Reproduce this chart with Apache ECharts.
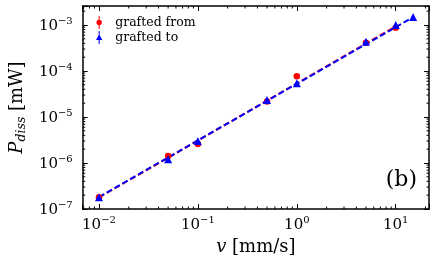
<!DOCTYPE html>
<html>
<head>
<meta charset="utf-8">
<script src="https://cdn.jsdelivr.net/npm/echarts@6/dist/echarts.min.js"></script>
<style>
html,body{margin:0;padding:0;background:#fff;}
#c{width:436px;height:265px;}
</style>
</head>
<body>
<div id="c"></div>
<script>
// ---- data ----
const fromV = [0.01, 0.05, 0.1, 0.5, 1, 5, 10];
const fromP = [1.8e-7, 1.42e-6, 2.6e-6, 2.16e-5, 7.7e-5, 4.1e-4, 8.7e-4];
const toV = [0.01, 0.05, 0.1, 0.5, 1, 5, 10, 15];
const toP = [1.8e-7, 1.2e-6, 3.0e-6, 2.34e-5, 5.4e-5, 4.35e-4, 1.0e-3, 1.5e-3];
// fitted power-law lines (end points)
const fitFromV = [0.01, 10];
const fitFromP = [1.78e-7, 9.3e-4];
const fitToV = [0.01, 15];
const fitToP = [1.82e-7, 1.48e-3];
// minor tick values (log axes)
const minorXTicks = [0.007, 0.008, 0.009, 0.02, 0.03, 0.04, 0.05, 0.06, 0.07, 0.08, 0.09,
  0.2, 0.3, 0.4, 0.5, 0.6, 0.7, 0.8, 0.9, 2, 3, 4, 5, 6, 7, 8, 9, 20];
const minorYTicks = [2e-7,3e-7,4e-7,5e-7,6e-7,7e-7,8e-7,9e-7,
  2e-6,3e-6,4e-6,5e-6,6e-6,7e-6,8e-6,9e-6,
  2e-5,3e-5,4e-5,5e-5,6e-5,7e-5,8e-5,9e-5,
  2e-4,3e-4,4e-4,5e-4,6e-4,7e-4,8e-4,9e-4, 2e-3];
const X_MIN = 0.00685, X_MAX = 21.7;
const Y_MIN = 1e-7, Y_MAX = 2.59e-3;

const FONT = 'DejaVu Serif';
const zip = (a, b) => a.map((v, i) => [v, b[i]]);

function powLabel(v) {
  const e = Math.log10(v);
  const r = Math.round(e);
  if (Math.abs(e - r) > 1e-6) return '';
  return '{b|10}{s|' + (r < 0 ? '\u2212' : '') + Math.abs(r) + '}';
}
const labelRich = {
  b: {fontFamily: FONT, fontSize: 15, lineHeight: 18, verticalAlign: 'bottom', color: '#000'},
  s: {fontFamily: FONT, fontSize: 10, lineHeight: 10, verticalAlign: 'top', color: '#000'}
};

function baseAxis(extra) {
  return Object.assign({
    type: 'log',
    logBase: 10,
    axisLine: {show: true, lineStyle: {color: '#000', width: 1.5}},
    axisTick: {show: true, inside: true, length: 5, lineStyle: {color: '#000', width: 1}},
    splitLine: {show: false},
    minorTick: {show: false}
  }, extra);
}

const chart = echarts.init(document.getElementById('c'), null, {renderer: 'canvas'});

const minorLine = (x1, y1, x2, y2) => ({type: 'line', shape: {x1, y1, x2, y2}, style: {stroke: '#000', lineWidth: 1}});

const option = {
  animation: false,
  backgroundColor: '#fff',
  grid: {left: 79, right: 7, top: 6, bottom: 56, containLabel: false},
  xAxis: [
    baseAxis({
      position: 'bottom', min: X_MIN, max: X_MAX,
      axisLabel: {formatter: powLabel, rich: labelRich, margin: 6, showMinLabel: true, showMaxLabel: true},
      name: '{i|v} [mm/s]', nameLocation: 'middle', nameGap: 26,
      nameTextStyle: {fontFamily: FONT, fontSize: 18, color: '#000',
        rich: {i: {fontFamily: FONT, fontStyle: 'italic', fontSize: 18, color: '#000'}}}
    }),
    baseAxis({position: 'top', min: X_MIN, max: X_MAX, axisLabel: {show: false}})
  ],
  yAxis: [
    baseAxis({
      position: 'left', min: Y_MIN, max: Y_MAX,
      axisLabel: {formatter: powLabel, rich: labelRich, margin: 10},
      name: '{i|P}{sub|diss}{n| [mW]}', nameLocation: 'middle', nameGap: 54,
      nameTextStyle: {fontFamily: FONT, fontSize: 18, color: '#000',
        rich: {
          i: {fontFamily: FONT, fontStyle: 'italic', fontSize: 18, lineHeight: 20, verticalAlign: 'top', color: '#000'},
          sub: {fontFamily: FONT, fontStyle: 'italic', fontSize: 12.5, lineHeight: 13, verticalAlign: 'bottom', color: '#000'},
          n: {fontFamily: FONT, fontSize: 18, lineHeight: 20, verticalAlign: 'top', color: '#000'}
        }}
    }),
    baseAxis({position: 'right', min: Y_MIN, max: Y_MAX, axisLabel: {show: false}})
  ],
  legend: {
    data: [
      {name: 'grafted from', icon: 'path://M4.45,0H5.55V14H4.45Z M7.9,7A2.9,2.9 0 1 1 2.1,7A2.9,2.9 0 1 1 7.9,7Z'},
      {name: 'grafted to', icon: 'path://M4.45,0H5.55V14H4.45Z M5,3.4L8.4,9.6H1.6Z'}
    ],
    orient: 'vertical',
    left: 91, top: 11,
    itemWidth: 22, itemHeight: 13, itemGap: 2,
    textStyle: {fontFamily: FONT, fontSize: 12.5, color: '#000'}
  },
  graphic: [
    {type: 'text', right: 19, top: 169, style: {text: '(b)', font: '22px "DejaVu Serif"', fill: '#000'}}
  ],
  series: [
    {
      name: 'fit from', type: 'line', data: zip(fitFromV, fitFromP),
      symbol: 'none', lineStyle: {color: '#ff0000', width: 2, type: [6, 3]}, z: 2, silent: true
    },
    {
      name: 'fit to', type: 'line', data: zip(fitToV, fitToP),
      symbol: 'none', lineStyle: {color: '#0000ff', width: 2, type: [6, 3]}, z: 3, silent: true
    },
    {
      name: 'grafted from', type: 'scatter', data: zip(fromV, fromP),
      symbol: 'circle', symbolSize: 6.5, itemStyle: {color: '#ff0000', opacity: 1}, z: 4
    },
    {
      name: 'grafted to', type: 'scatter', data: zip(toV, toP),
      symbol: 'triangle', symbolSize: 8, itemStyle: {color: '#0000ff', opacity: 1}, z: 5
    },
    {
      name: 'minorX', type: 'custom', silent: true, z: 6,
      data: minorXTicks.map(v => [v, Y_MIN]),
      renderItem: function (params, api) {
        const cs = params.coordSys;
        const px = api.coord([api.value(0), Y_MIN])[0];
        const yb = cs.y + cs.height;
        return {type: 'group', children: [
          minorLine(px, yb, px, yb - 2.5),
          minorLine(px, cs.y, px, cs.y + 2.5)
        ]};
      }
    },
    {
      name: 'minorY', type: 'custom', silent: true, z: 6,
      data: minorYTicks.map(v => [X_MIN, v]),
      renderItem: function (params, api) {
        const cs = params.coordSys;
        const py = api.coord([X_MIN, api.value(1)])[1];
        const xr = cs.x + cs.width;
        return {type: 'group', children: [
          minorLine(cs.x, py, cs.x + 2.5, py),
          minorLine(xr, py, xr - 2.5, py)
        ]};
      }
    }
  ]
};
chart.setOption(option);
</script>
</body>
</html>
